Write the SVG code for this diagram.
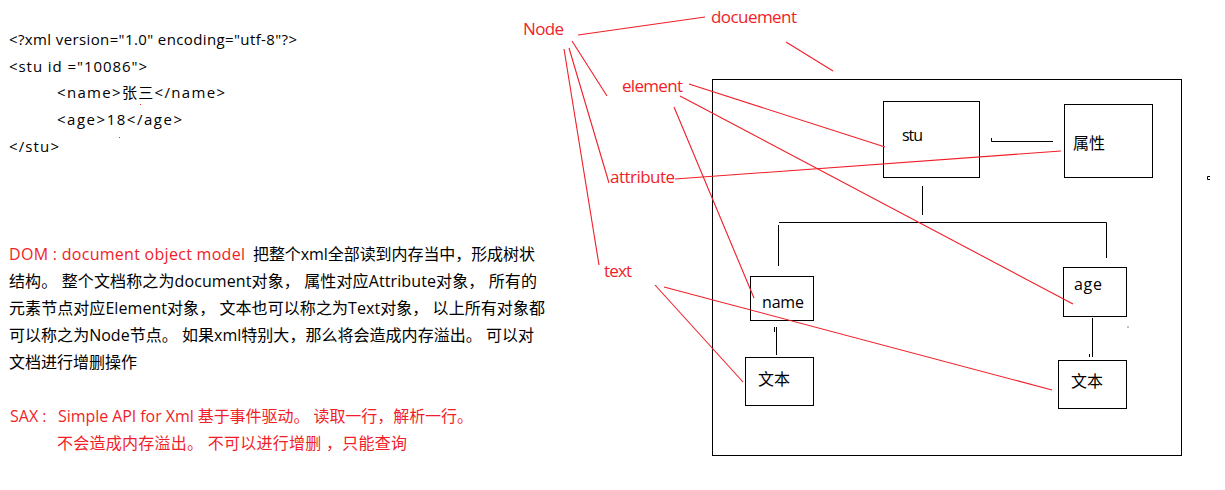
<svg xmlns="http://www.w3.org/2000/svg" width="1225" height="490" viewBox="0 0 1225 490">
<style>
text{font-family:"Open Sans","Noto Sans CJK SC",sans-serif;}
.code{font-size:15px;fill:#000;}
.para{font-size:16px;fill:#000;}
.red{fill:#f01e28;}
.lbl{font-size:17px;fill:#f01e28;}
.nt{font-size:16px;fill:#000;}
.box{fill:#fff;stroke:#000;stroke-width:1;}
.blk{fill:none;stroke:#000;stroke-width:1;}
.rl{fill:none;stroke:#f01e28;stroke-width:1.1;}
</style>
<rect width="1225" height="490" fill="#fff"/>
<g id="xml-source">
<text class="code" x="9" y="45" textLength="288">&lt;?xml version="1.0" encoding="utf-8"?&gt;</text>
<text class="code" x="9" y="72" textLength="138">&lt;stu id ="10086"&gt;</text>
<text class="code" x="57" y="98" textLength="168">&lt;name&gt;张三&lt;/name&gt;</text>
<text class="code" x="57" y="125" textLength="125">&lt;age&gt;18&lt;/age&gt;</text>
<text class="code" x="9" y="152" textLength="50">&lt;/stu&gt;</text>
</g>
<g id="dom-text">
<text class="para" y="260"><tspan class="red" x="9" textLength="236">DOM : document object model</tspan><tspan x="253" textLength="282">把整个xml全部读到内存当中，形成树状</tspan></text>
<text class="para" x="9" y="287" textLength="528">结构。 整个文档称之为document对象， 属性对应Attribute对象， 所有的</text>
<text class="para" x="9" y="314" textLength="536">元素节点对应Element对象， 文本也可以称之为Text对象， 以上所有对象都</text>
<text class="para" x="9" y="341" textLength="525">可以称之为Node节点。 如果xml特别大，那么将会造成内存溢出。 可以对</text>
<text class="para" x="9" y="368" textLength="128">文档进行增删操作</text>
</g>
<g id="sax-text">
<text class="para red" y="422"><tspan x="10">SAX :</tspan><tspan x="58" textLength="415">Simple API for Xml 基于事件驱动。 读取一行，解析一行。</tspan></text>
<text class="para red" x="57" y="449" textLength="350">不会造成内存溢出。  不可以进行增删 ，只能查询</text>
</g>
<g id="document-frame"><rect class="box" x="712.5" y="79.5" width="469" height="376"/></g>
<g id="node-stu"><rect class="box" x="883.5" y="101.5" width="96" height="76"/><text class="nt" x="902" y="141" textLength="21">stu</text></g>
<g id="node-attr"><rect class="box" x="1064.5" y="104.5" width="88" height="73"/><text class="nt" x="1073" y="149" textLength="32">属性</text></g>
<g id="node-name"><rect class="box" x="750.5" y="276.5" width="63" height="44"/><text class="nt" x="762" y="308" textLength="42">name</text></g>
<g id="node-age"><rect class="box" x="1063.5" y="267.5" width="63" height="49"/><text class="nt" x="1074" y="290" textLength="28">age</text></g>
<g id="node-text1"><rect class="box" x="745.5" y="357.5" width="68" height="48"/><text class="nt" x="758" y="385" textLength="32">文本</text></g>
<g id="node-text2"><rect class="box" x="1058.5" y="360.5" width="68" height="48"/><text class="nt" x="1071" y="387" textLength="32">文本</text></g>
<g id="labels">
<text class="lbl" x="523" y="35" textLength="41">Node</text>
<text class="lbl" x="711" y="23" textLength="86">docuement</text>
<text class="lbl" x="622" y="92" textLength="61">element</text>
<text class="lbl" x="610" y="183" textLength="65">attribute</text>
<text class="lbl" x="604" y="277" textLength="28">text</text>
</g>
<g id="connectors">
<path class="blk" d="M991.5 138V141.5H1053"/>
<path class="blk" d="M922.5 186V215"/>
<path class="blk" d="M779 222.5H1106.5V258"/>
<path class="blk" d="M778.5 225V266"/>
<path class="blk" d="M776.5 327V355M774.5 327V332"/>
<path class="blk" d="M1092.5 318V357M1089.5 354V357"/>
<path class="rl" d="M578 35L705 17"/>
<path class="rl" d="M786 42L833 71"/>
<path class="rl" d="M572 41L607 96"/>
<path class="rl" d="M569 48L609 183"/>
<path class="rl" d="M564 49L599 265"/>
<path class="rl" d="M689 84L885 147"/>
<path class="rl" d="M680 96L1073 304"/>
<path class="rl" d="M674 107L754 298"/>
<path class="rl" d="M675 179L1061 151"/>
<path class="rl" d="M664 287L1052 390"/>
<path class="rl" d="M655 285L743 382"/>
</g>
<g id="marks">
<rect x="1127.5" y="326.5" width="1" height="1" fill="#000"/>
<path class="blk" d="M1210 176.5H1207.5V179.5H1210"/>
<rect x="140" y="104" width="1" height="1" fill="#f01e28"/>
<rect x="119" y="137" width="1" height="1" fill="#f01e28"/>
</g>
</svg>
